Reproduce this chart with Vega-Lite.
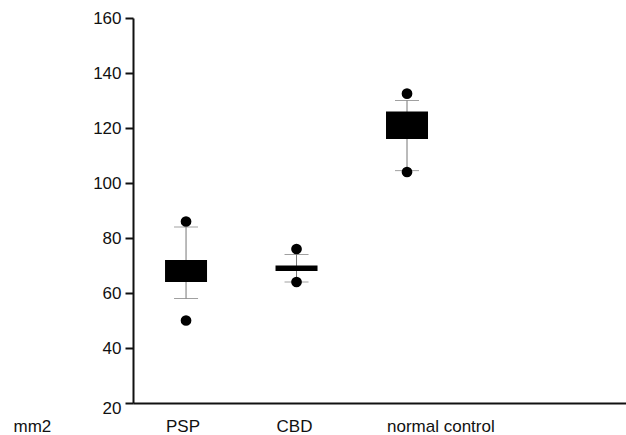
{
  "$schema": "https://vega.github.io/schema/vega-lite/v6.json",
  "autosize": "none",
  "width": 493,
  "height": 385,
  "padding": {"left": 133, "top": 18, "right": 0, "bottom": 32},
  "background": "white",
  "config": {
    "view": {"stroke": null},
    "font": "Liberation Sans",
    "axis": {"labelFont": "Liberation Sans", "labelFontSize": 17, "labelColor": "#111", "titleFont": "Liberation Sans", "titleFontSize": 17, "titleFontWeight": "normal", "titleColor": "#111", "grid": false, "domainColor": "#111", "domainWidth": 2, "tickColor": "#111", "tickWidth": 2}
  },
  "datasets": {
    "boxes": [
      {"group": "PSP", "lower": 58, "q1": 64, "q3": 72, "upper": 84},
      {"group": "CBD", "lower": 64, "q1": 68, "q3": 70, "upper": 74},
      {"group": "normal control", "lower": 104.5, "q1": 116, "q3": 126, "upper": 130}
    ],
    "outliers": [
      {"group": "PSP", "value": 86},
      {"group": "PSP", "value": 50},
      {"group": "CBD", "value": 76},
      {"group": "CBD", "value": 64},
      {"group": "normal control", "value": 132.5},
      {"group": "normal control", "value": 104}
    ]
  },
  "encoding": {
    "x": {
      "field": "group", "type": "nominal",
      "sort": ["PSP", "CBD", "normal control"],
      "scale": {"type": "band", "domain": ["PSP", "CBD", "normal control"], "paddingInner": 0.04, "paddingOuter": 0.751, "align": 0, "round": false},
      "axis": {"title": "mm2", "titleAnchor": "start", "titleAlign": "left", "titleBaseline": "middle", "titleX": -120, "titleY": 23, "labelAngle": 0, "labelAlign": "left", "labelOffset": -20, "labelPadding": 15, "ticks": false}
    }
  },
  "layer": [
    {
      "data": {"name": "boxes"},
      "mark": {"type": "rule", "color": "#777", "strokeWidth": 1},
      "encoding": {
        "y": {"field": "lower", "type": "quantitative", "scale": {"domain": [20, 160], "nice": false, "zero": false},
          "axis": {"title": null, "values": [20, 40, 60, 80, 100, 120, 140, 160], "tickSize": 8, "labelPadding": 4,
            "labelOffset": {"condition": {"test": "datum.value == 20", "value": 5}, "value": 0}}},
        "y2": {"field": "upper"}
      }
    },
    {
      "data": {"name": "boxes"},
      "mark": {"type": "tick", "color": "#777", "size": 24, "thickness": 1},
      "encoding": {"y": {"field": "lower", "type": "quantitative"}}
    },
    {
      "data": {"name": "boxes"},
      "mark": {"type": "tick", "color": "#777", "size": 24, "thickness": 1},
      "encoding": {"y": {"field": "upper", "type": "quantitative"}}
    },
    {
      "data": {"name": "boxes"},
      "mark": {"type": "bar", "color": "black", "size": 42},
      "encoding": {
        "y": {"field": "q1", "type": "quantitative"},
        "y2": {"field": "q3"}
      }
    },
    {
      "data": {"name": "outliers"},
      "mark": {"type": "point", "filled": true, "color": "black", "opacity": 1, "size": 115, "shape": "circle"},
      "encoding": {"y": {"field": "value", "type": "quantitative"}}
    }
  ]
}
